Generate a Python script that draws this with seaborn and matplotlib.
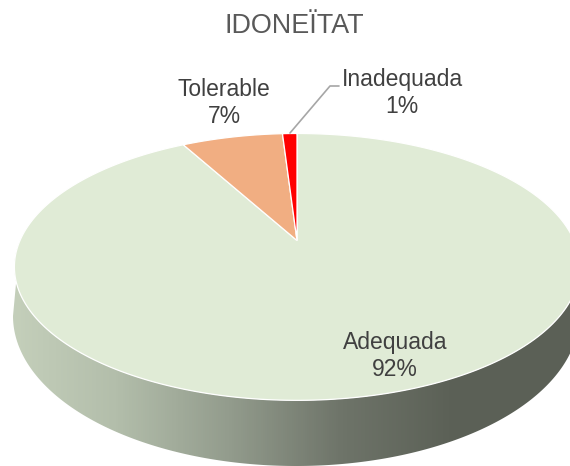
import numpy as np
import matplotlib
matplotlib.use("Agg")
import matplotlib.pyplot as plt
from matplotlib.patches import Polygon
import seaborn as sns

# Data
categories = ["Adequada", "Tolerable", "Inadequada"]
values = [92, 7, 1]
slice_colors = ["#E0EBD6", "#F1AE82", "#FF0000"]
title = "IDONEÏTAT"

sns.set_theme(style="white")
plt.rcParams["font.family"] = ["Liberation Sans", "DejaVu Sans"]

# Pixel geometry of the tilted disc (apex = centre of the pie)
APEX_X, APEX_Y = 297.0, 240.5
SCALE_X, SCALE_Y, TILT = 277.0, 128.2, 0.198


def tilt(u, v):
    """Perspective map from the unit disc to the picture"""
    w = 1 + TILT * v
    return APEX_X + SCALE_X * u / w, APEX_Y - SCALE_Y * v / w


fig = plt.figure(figsize=(5.70, 4.66), dpi=100, facecolor="white")
ax = fig.add_axes([0, 0, 1, 1])

wedges, _ = ax.pie(values, colors=slice_colors, startangle=90, counterclock=False)

# Side wall of the disc: a gradient clipped to the band under the top face
t = np.linspace(np.pi, 2 * np.pi, 300)
top_x, top_y = tilt(np.cos(t), np.sin(t))
bot_x = 296 + 283 * np.cos(t)
bot_y = 316 - 150 * np.sin(t)
wall = Polygon(np.r_[np.c_[top_x, top_y], np.c_[bot_x, bot_y][::-1]],
               closed=True, transform=ax.transData, fc="none", ec="none")
ax.add_patch(wall)
wall_cmap = sns.blend_palette(
    ["#C6D1BC", "#B3BEAB", "#939C8D", "#6E7469", "#5B6056", "#5B6056"], as_cmap=True)
gradient = ax.imshow(np.linspace(0, 1, 570)[None, :], cmap=wall_cmap, aspect="auto",
                     extent=(0, 570, 466, 0), zorder=1)
gradient.set_clip_path(wall)

# Top face: the angles come from the pie, drawn through the perspective map
for wedge in wedges:
    a = np.deg2rad(np.linspace(wedge.theta1, wedge.theta2, 300))
    x, y = tilt(np.cos(a), np.sin(a))
    pts = np.r_[[[APEX_X, APEX_Y]], np.c_[x, y]]
    ax.add_patch(Polygon(pts, closed=True, fc=wedge.get_facecolor(), ec="white",
                         lw=0.9, zorder=2))
    wedge.remove()

ax.set_aspect("auto")
ax.set_xlim(0, 570)
ax.set_ylim(466, 0)
ax.axis("off")

# Labels
ax.text(294, 26, title, fontsize=19.4, color="#595959", ha="center", va="center")
label_spots = [(395, 356), (224, 103), (402, 93)]
for name, value, (lx, ly) in zip(categories, values, label_spots):
    ax.text(lx, ly, f"{name}\n{value}%", fontsize=16.5, color="#404040",
            ha="center", va="center", linespacing=1.22, zorder=3)

# Leader line for the small slice
ax.plot([290, 330, 339], [133, 86, 86], color="#A6A6A6", lw=1.2, zorder=3)

plt.savefig("out.png", dpi=100, facecolor="white")
